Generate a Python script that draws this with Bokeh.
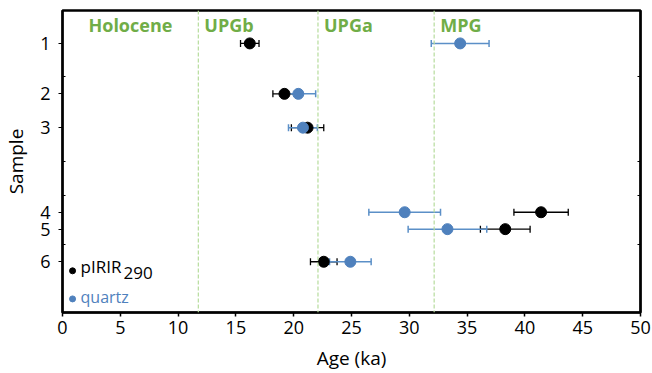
from bokeh.plotting import figure
from bokeh.models import (ColumnDataSource, Whisker, TeeHead, Span, Label,
                          FixedTicker, LinearAxis, Range1d)
from bokeh.embed import file_html
from bokeh.resources import INLINE

# ---- data ----
samples = ["1", "2", "3", "4", "5", "6"]
sample_pos = [1.09, 2.76, 3.88, 6.68, 7.24, 8.32]   # position along the sample axis
inner_ticks = [2.2, 5.0, 6.12, 7.76]

pirir_age = [16.2, 19.2, 21.2, 41.4, 38.3, 22.6]
pirir_err = [0.8, 1.0, 1.4, 2.35, 2.15, 1.15]

quartz_age = [34.4, 20.4, 20.8, 29.6, 33.3, 24.9]
quartz_err = [2.5, 1.5, 1.25, 3.1, 3.4, 1.8]

period_names = ["Holocene", "UPGb", "UPGa", "MPG"]
boundaries = [11.75, 22.1, 32.15]
x_ticks = [0, 5, 10, 15, 20, 25, 30, 35, 40, 45, 50]

FONT = "Open Sans"
GREEN = "#70ad47"
BLUE = "#4f81bd"
BLUE_ERR = "#5b8fc7"

p = figure(width=652, height=373, output_backend="svg", toolbar_location=None,
           x_range=Range1d(0, 50), y_range=Range1d(10, 0),
           min_border_left=62, min_border_right=12, min_border_top=10,
           min_border_bottom=59)
p.grid.visible = False
p.outline_line_color = "black"
p.outline_line_width = 2.5
p.background_fill_color = "white"
p.border_fill_color = "white"

# x axis
xa = p.xaxis[0]
xa.ticker = FixedTicker(ticks=x_ticks)
xa.minor_tick_line_color = None
xa.major_tick_in = 0
xa.major_tick_out = 4
xa.major_tick_line_width = 1.5
xa.axis_line_width = 2
xa.major_label_text_font = FONT
xa.major_label_text_font_size = "18px"
xa.major_label_text_color = "black"
xa.major_label_standoff = 4
xa.axis_label = "Age (ka)"
xa.axis_label_text_font = FONT
xa.axis_label_text_font_size = "19px"
xa.axis_label_text_font_style = "normal"
xa.axis_label_text_color = "black"
xa.axis_label_standoff = 8

# y axis
ya = p.yaxis[0]
ya.ticker = FixedTicker(ticks=sample_pos, minor_ticks=inner_ticks)
ya.major_label_overrides = {pos: s for pos, s in zip(sample_pos, samples)}
ya.major_tick_in = 0
ya.major_tick_out = 4
ya.minor_tick_in = 3
ya.minor_tick_out = 0
ya.axis_line_width = 2
ya.major_label_text_font = FONT
ya.major_label_text_font_size = "18px"
ya.major_label_text_color = "black"
ya.major_label_standoff = 8
ya.axis_label = "Sample"
ya.axis_label_text_font = FONT
ya.axis_label_text_font_size = "19px"
ya.axis_label_text_font_style = "normal"
ya.axis_label_text_color = "black"
ya.axis_label_standoff = 8

# right axis with inner ticks only
ra = LinearAxis(ticker=FixedTicker(ticks=[], minor_ticks=inner_ticks),
                major_label_text_font_size="0px", minor_tick_in=3,
                minor_tick_out=0, axis_line_width=2, major_tick_line_color=None)
p.add_layout(ra, "right")

# period boundaries
for b in boundaries:
    p.add_layout(Span(location=b, dimension="height", line_color="#b6dc9c",
                      line_dash="4 2", line_width=1.2))

# period labels
label_x = [boundaries[0] / 2] + boundaries
for i, (name, lx) in enumerate(zip(period_names, label_x)):
    p.add_layout(Label(x=lx, y=0.08, text=name, text_font=FONT,
                       text_font_size="18px", text_font_style="bold",
                       text_color=GREEN, text_baseline="top",
                       text_align="center" if i == 0 else "left",
                       x_offset=0 if i == 0 else 6))

# error bars and points
src_p = ColumnDataSource(dict(y=sample_pos, x=pirir_age,
                              lo=[a - e for a, e in zip(pirir_age, pirir_err)],
                              hi=[a + e for a, e in zip(pirir_age, pirir_err)]))
src_q = ColumnDataSource(dict(y=sample_pos, x=quartz_age,
                              lo=[a - e for a, e in zip(quartz_age, quartz_err)],
                              hi=[a + e for a, e in zip(quartz_age, quartz_err)]))

for src, col, lw in [(src_p, "black", 1.3), (src_q, BLUE_ERR, 1.5)]:
    w = Whisker(source=src, base="y", lower="lo", upper="hi", dimension="width",
                line_color=col, line_width=lw,
                lower_head=TeeHead(size=7, line_color=col, line_width=lw),
                upper_head=TeeHead(size=7, line_color=col, line_width=lw))
    p.add_layout(w)

p.scatter("x", "y", source=src_p, size=11, fill_color="black", line_color="black")
p.scatter("x", "y", source=src_q, size=11, fill_color=BLUE, line_color=BLUE)

# legend (annotation)
p.scatter([0.87], [8.62], size=6, color="black")
p.scatter([0.87], [9.55], size=6, color=BLUE)
p.add_layout(Label(x=0.87, y=8.62, x_offset=8, y_offset=4, text="pIRIR",
                   text_font=FONT, text_font_size="17px", text_color="black",
                   text_baseline="alphabetic"))
p.add_layout(Label(x=0.87, y=8.62, x_offset=51, y_offset=-2, text="290",
                   text_font=FONT, text_font_size="17px", text_color="black",
                   text_baseline="alphabetic"))
p.add_layout(Label(x=0.87, y=9.55, x_offset=8, y_offset=2, text="quartz",
                   text_font=FONT, text_font_size="16px", text_color=BLUE,
                   text_baseline="alphabetic"))

open("out.html", "w").write(file_html(p, INLINE))
